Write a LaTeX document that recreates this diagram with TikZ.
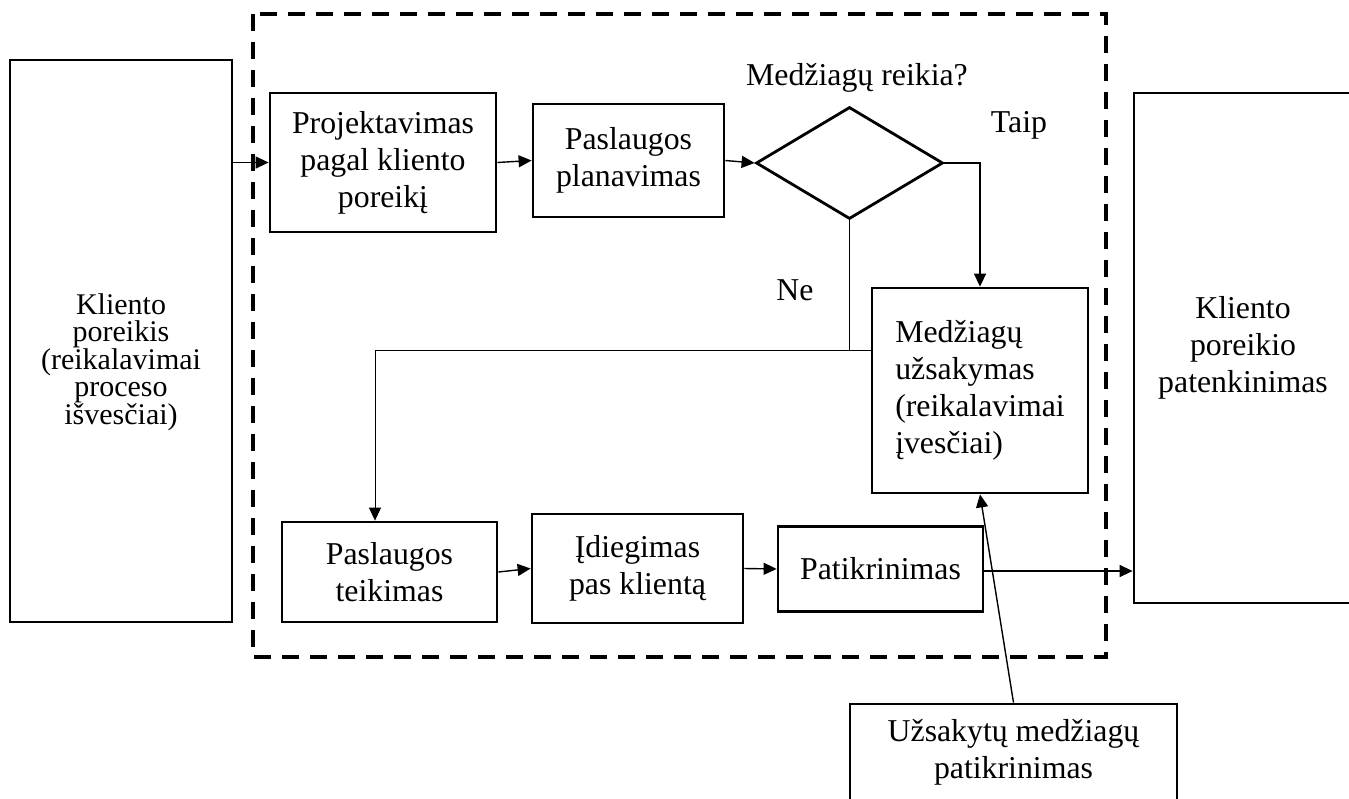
\documentclass[tikz,border=0pt]{standalone}
\usepackage{fontspec}
\setmainfont{Liberation Serif}
\usetikzlibrary{arrows.meta,shapes.geometric}
\newcommand\diagfont{\fontsize{31.8}{37}\selectfont}
\newcommand\tightfont{\fontsize{30}{27.5}\selectfont}
\begin{document}
\begin{tikzpicture}[x=1pt,y=-1pt,
  box/.style={draw, line width=2.8pt, align=center, inner sep=0pt, font=\diagfont},
  lbl/.style={inner sep=0pt, font=\diagfont},
  conn/.style={line width=1.4pt},
  arr/.style={conn, -{Triangle[length=13pt,width=12pt]}},
  frame/.style={line width=4pt, dash pattern=on 17pt off 11pt}
]
\useasboundingbox (0,0) rectangle (1349,798);
\fill[white] (0,0) rectangle (1349,798);

% process boundary
\draw[frame] (253,14) rectangle (1106,657);

% outer boxes
\node[box, minimum width=222pt, minimum height=562pt] (kp) at (121,341) {};
\node[lbl, align=center, font=\tightfont] (kpt) at (121,362)
  {Kliento\\poreikis\\(reikalavimai\\proceso\\išvesčiai)};
\node[box, minimum width=218pt, minimum height=510pt] (rp) at (1243,348)
  {Kliento\\poreikio\\patenkinimas};

% upper row
\node[box, minimum width=226pt, minimum height=139pt] (proj) at (383,162.5)
  {Projektavimas\\pagal kliento\\poreikį};
\node[box, minimum width=191pt, minimum height=113pt] (plan) at (628.5,160.5)
  {Paslaugos\\planavimas};
\node[draw, diamond, line width=2.8pt, inner sep=0pt,
      minimum width=187pt, minimum height=112pt] (dia) at (849.5,163) {};
\node[lbl] (q) at (857,78) {Medžiagų reikia?};
\node[lbl] (taip) at (1019,125) {Taip};
\node[lbl] (ne) at (795,290) {Ne};

% ordering of materials
\node[box, align=left, minimum width=216pt, minimum height=205pt] (mu) at (980,390.5)
  {Medžiagų\\užsakymas\\(reikalavimai\\įvesčiai)};

% lower row
\node[box, minimum width=215pt, minimum height=100pt] (teik) at (389.5,572)
  {Paslaugos\\teikimas};
\node[box, minimum width=211pt, minimum height=109pt] (idieg) at (637.5,568.5)
  {Įdiegimas\\pas klientą};
\node[box, minimum width=205pt, minimum height=85pt] (patikr) at (880.5,569)
  {Patikrinimas};
\node[box, minimum width=327pt, minimum height=97pt] (uzs) at (1013.5,752.5)
  {Užsakytų medžiagų\\patikrinimas};

% connectors
\draw[arr] (kp.east |- proj.west) -- (proj.west);
\draw[arr] (proj.east) -- (plan.west);
\draw[arr] (plan.east) -- (dia.west);
\draw[arr] (dia.east) -| (mu.north);

\coordinate (nej) at (dia.south |- 0,350);
\coordinate (nel) at (375,350);
\draw[conn, line width=1pt] (dia.south) -- (nej);
\draw[conn, line width=1pt] (mu.west |- nej) -- (nel);
\draw[arr, line width=1pt] (nel) -- (nel |- teik.north);

\draw[arr] (teik.east) -- (idieg.west);
\draw[arr] (idieg.east) -- (patikr.west);
\coordinate (out) at ([yshift=-2pt]patikr.east);
\draw[arr] (out) -- (out -| rp.west);
\draw[arr] (uzs.north) -- (mu.south);
\end{tikzpicture}
\end{document}
